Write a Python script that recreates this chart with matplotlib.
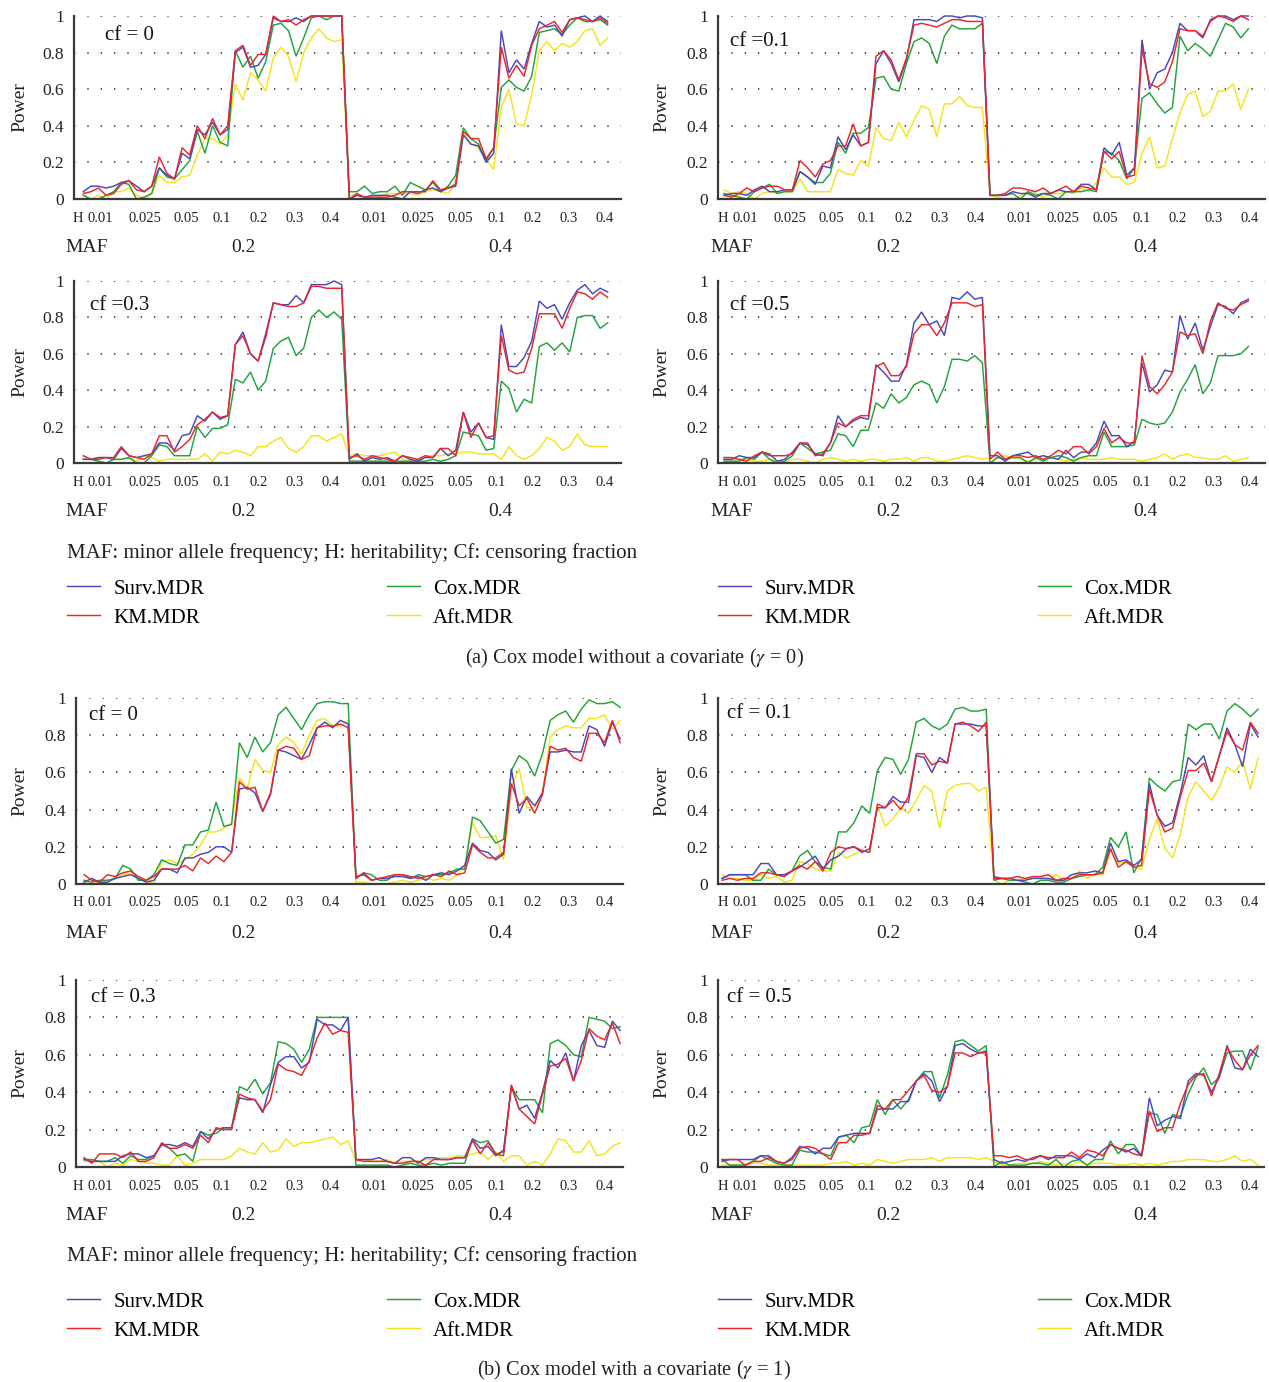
import numpy as np
import matplotlib
matplotlib.use('Agg')
import matplotlib.pyplot as plt

plt.rcParams['font.family'] = ['Liberation Serif', 'DejaVu Serif']
plt.rcParams['mathtext.fontset'] = 'stix'

# ---------------- categories / labels ----------------
h_levels = ['0.01', '0.025', '0.05', '0.1', '0.2', '0.3', '0.4']
maf_levels = ['0.2', '0.4']
methods = ['Surv.MDR', 'KM.MDR', 'Cox.MDR', 'Aft.MDR']
cf_labels_a = ['cf = 0', 'cf =0.1', 'cf =0.3', 'cf =0.5']
cf_labels_b = ['cf = 0', 'cf = 0.1', 'cf = 0.3', 'cf = 0.5']
y_ticks = [0, 0.2, 0.4, 0.6, 0.8, 1.0]
y_ticklabels = ['0', '0.2', '0.4', '0.6', '0.8', '1']

# ---------------- (a) without covariate ----------------
a_cf0_surv = [0.04,0.07,0.07,0.06,0.07, 0.09,0.10,0.07,0.04,0.07, 0.17,0.13,0.11,0.25,0.22, 0.38,0.35,0.42,0.35,0.38, 0.80,0.83,0.72,0.73,0.79, 0.99,0.97,0.97,0.99,0.97, 1.0,1.0,1.0,1.0,1.0,
              0.0,0.02,0.01,0.02,0.02, 0.02,0.01,0.0,0.04,0.03, 0.05,0.06,0.04,0.06,0.07, 0.35,0.30,0.29,0.20,0.25, 0.92,0.69,0.76,0.71,0.85, 0.97,0.94,0.95,0.89,0.98, 0.99,1.0,0.97,1.0,0.97]
a_cf0_km = [0.03,0.04,0.06,0.02,0.03, 0.08,0.10,0.05,0.04,0.07, 0.23,0.14,0.11,0.28,0.24, 0.40,0.33,0.44,0.35,0.40, 0.81,0.84,0.73,0.79,0.79, 1.0,0.97,0.98,0.95,0.98, 1.0,1.0,1.0,1.0,1.0,
            0.0,0.03,0.01,0.01,0.01, 0.01,0.02,0.04,0.04,0.04, 0.04,0.10,0.05,0.06,0.08, 0.37,0.33,0.33,0.22,0.28, 0.83,0.66,0.73,0.67,0.84, 0.93,0.95,0.97,0.91,0.98, 0.99,0.98,0.97,0.99,0.96]
a_cf0_cox = [0.02,0.0,0.0,0.02,0.04, 0.09,0.08,0.0,0.01,0.03, 0.17,0.12,0.11,0.16,0.21, 0.37,0.25,0.40,0.31,0.29, 0.81,0.72,0.78,0.66,0.75, 0.95,0.96,0.92,0.78,0.88, 0.99,1.0,0.98,1.0,1.0,
             0.04,0.04,0.07,0.03,0.04, 0.04,0.07,0.02,0.09,0.07, 0.05,0.09,0.04,0.07,0.13, 0.39,0.33,0.30,0.21,0.28, 0.61,0.65,0.61,0.59,0.67, 0.91,0.92,0.93,0.90,0.95, 0.99,0.97,0.97,0.98,0.95]
a_cf0_aft = [0.02,0.0,0.02,0.0,0.04, 0.04,0.06,0.02,0.0,0.03, 0.13,0.09,0.09,0.12,0.13, 0.24,0.33,0.33,0.30,0.35, 0.63,0.54,0.69,0.65,0.59, 0.77,0.83,0.78,0.64,0.80, 0.88,0.93,0.88,0.86,0.87,
             0.02,0.02,0.0,0.0,0.01, 0.03,0.03,0.03,0.03,0.02, 0.04,0.05,0.04,0.03,0.10, 0.36,0.30,0.28,0.22,0.16, 0.50,0.60,0.41,0.40,0.57, 0.81,0.86,0.81,0.85,0.83, 0.86,0.92,0.93,0.84,0.88]

a_cf1_surv = [0.02,0.03,0.03,0.02,0.05, 0.07,0.04,0.04,0.05,0.05, 0.15,0.12,0.08,0.18,0.17, 0.34,0.27,0.35,0.29,0.31, 0.74,0.81,0.74,0.64,0.76, 0.98,0.98,0.98,0.97,1.0, 1.0,0.99,1.0,1.0,0.99,
              0.02,0.02,0.02,0.04,0.03, 0.03,0.01,0.03,0.03,0.05, 0.04,0.04,0.08,0.08,0.05, 0.28,0.24,0.31,0.13,0.17, 0.87,0.60,0.69,0.71,0.80, 0.96,0.92,0.92,0.88,0.98, 1.0,1.0,0.98,1.0,1.0]
a_cf1_km = [0.02,0.01,0.03,0.06,0.04, 0.06,0.07,0.07,0.05,0.05, 0.21,0.17,0.12,0.19,0.21, 0.29,0.29,0.41,0.29,0.31, 0.78,0.81,0.76,0.65,0.77, 0.95,0.96,0.95,0.94,0.96, 0.98,0.98,0.97,0.97,0.97,
            0.02,0.02,0.03,0.06,0.06, 0.05,0.04,0.06,0.03,0.05, 0.07,0.04,0.07,0.06,0.05, 0.26,0.22,0.26,0.12,0.13, 0.82,0.63,0.61,0.64,0.75, 0.93,0.92,0.92,0.89,0.97, 1.0,0.99,0.97,1.0,0.98]
a_cf1_cox = [0.03,0.02,0.01,0.0,0.04, 0.06,0.08,0.03,0.04,0.04, 0.15,0.12,0.09,0.09,0.14, 0.31,0.25,0.36,0.36,0.39, 0.66,0.67,0.60,0.59,0.74, 0.86,0.88,0.85,0.74,0.89, 0.95,0.93,0.93,0.93,0.96,
             0.02,0.02,0.02,0.03,0.0, 0.04,0.02,0.03,0.02,0.0, 0.04,0.04,0.04,0.05,0.04, 0.26,0.25,0.21,0.11,0.17, 0.55,0.58,0.52,0.47,0.50, 0.89,0.81,0.85,0.82,0.78, 0.87,0.96,0.94,0.88,0.93]
a_cf1_aft = [0.05,0.03,0.04,0.03,0.0, 0.03,0.04,0.03,0.04,0.04, 0.11,0.04,0.04,0.04,0.04, 0.16,0.14,0.13,0.21,0.18, 0.39,0.33,0.32,0.42,0.34, 0.43,0.51,0.49,0.34,0.52, 0.52,0.56,0.51,0.50,0.50,
             0.02,0.01,0.0,0.0,0.02, 0.04,0.03,0.01,0.03,0.03, 0.04,0.03,0.06,0.04,0.09, 0.17,0.12,0.12,0.08,0.09, 0.25,0.34,0.17,0.18,0.33, 0.47,0.57,0.59,0.45,0.48, 0.59,0.59,0.63,0.49,0.60]

a_cf3_surv = [0.02,0.02,0.03,0.03,0.02, 0.08,0.04,0.03,0.04,0.05, 0.11,0.11,0.07,0.15,0.16, 0.26,0.23,0.28,0.24,0.26, 0.65,0.72,0.60,0.56,0.71, 0.88,0.87,0.87,0.92,0.88, 0.98,0.98,0.98,1.0,0.98,
              0.02,0.05,0.01,0.03,0.02, 0.03,0.01,0.04,0.02,0.01, 0.03,0.03,0.08,0.04,0.07, 0.28,0.17,0.22,0.14,0.13, 0.76,0.53,0.53,0.58,0.67, 0.89,0.85,0.87,0.79,0.88, 0.95,0.98,0.93,0.96,0.94]
a_cf3_km = [0.04,0.02,0.02,0.03,0.03, 0.09,0.04,0.03,0.02,0.05, 0.15,0.15,0.06,0.09,0.13, 0.21,0.24,0.28,0.25,0.26, 0.65,0.70,0.60,0.56,0.69, 0.88,0.87,0.86,0.86,0.88, 0.97,0.97,0.96,0.96,0.96,
            0.03,0.04,0.02,0.04,0.03, 0.02,0.01,0.04,0.03,0.02, 0.04,0.03,0.08,0.08,0.04, 0.28,0.14,0.22,0.14,0.15, 0.70,0.51,0.49,0.50,0.63, 0.82,0.82,0.82,0.74,0.85, 0.94,0.93,0.90,0.94,0.91]
a_cf3_cox = [0.02,0.02,0.01,0.0,0.02, 0.02,0.03,0.0,0.0,0.04, 0.10,0.09,0.04,0.04,0.04, 0.20,0.14,0.19,0.19,0.21, 0.46,0.44,0.50,0.40,0.45, 0.63,0.67,0.69,0.59,0.63, 0.80,0.84,0.80,0.83,0.79,
             0.01,0.01,0.01,0.01,0.01, 0.01,0.01,0.01,0.01,0.01, 0.01,0.02,0.01,0.02,0.04, 0.17,0.16,0.15,0.07,0.08, 0.45,0.41,0.28,0.35,0.33, 0.64,0.66,0.62,0.66,0.61, 0.80,0.81,0.81,0.74,0.77]
a_cf3_aft = [0.04,0.02,0.03,0.03,0.02, 0.02,0.03,0.01,0.04,0.03, 0.01,0.02,0.02,0.02,0.02, 0.02,0.05,0.01,0.06,0.05, 0.07,0.06,0.04,0.09,0.09, 0.12,0.14,0.08,0.06,0.09, 0.15,0.15,0.12,0.14,0.16,
             0.04,0.05,0.04,0.04,0.04, 0.05,0.06,0.02,0.01,0.02, 0.04,0.04,0.04,0.05,0.05, 0.06,0.06,0.05,0.05,0.05, 0.02,0.09,0.04,0.02,0.04, 0.08,0.14,0.12,0.07,0.09, 0.16,0.10,0.09,0.09,0.09]

a_cf5_surv = [0.02,0.02,0.04,0.03,0.03, 0.06,0.05,0.01,0.02,0.06, 0.11,0.10,0.05,0.04,0.11, 0.26,0.20,0.23,0.25,0.24, 0.54,0.50,0.45,0.45,0.54, 0.77,0.83,0.76,0.78,0.70, 0.91,0.90,0.94,0.90,0.91,
              0.04,0.04,0.01,0.04,0.05, 0.06,0.03,0.04,0.03,0.02, 0.07,0.03,0.06,0.06,0.11, 0.23,0.15,0.15,0.09,0.12, 0.55,0.39,0.43,0.51,0.50, 0.81,0.68,0.77,0.62,0.75, 0.87,0.86,0.82,0.88,0.90]
a_cf5_km = [0.03,0.03,0.02,0.01,0.04, 0.06,0.04,0.04,0.04,0.05, 0.11,0.11,0.04,0.05,0.11, 0.22,0.20,0.24,0.26,0.26, 0.53,0.55,0.48,0.48,0.53, 0.71,0.76,0.76,0.70,0.77, 0.88,0.88,0.88,0.86,0.87,
            0.02,0.06,0.02,0.04,0.04, 0.03,0.04,0.02,0.04,0.07, 0.05,0.09,0.09,0.05,0.09, 0.19,0.11,0.14,0.11,0.11, 0.59,0.42,0.38,0.43,0.50, 0.72,0.70,0.71,0.60,0.78, 0.88,0.85,0.84,0.87,0.89]
a_cf5_cox = [0.01,0.01,0.01,0.03,0.02, 0.06,0.02,0.0,0.01,0.04, 0.11,0.08,0.05,0.06,0.07, 0.16,0.15,0.09,0.18,0.18, 0.33,0.30,0.38,0.33,0.36, 0.43,0.45,0.43,0.33,0.42, 0.57,0.57,0.56,0.59,0.55,
             0.0,0.03,0.02,0.03,0.03, 0.0,0.03,0.01,0.03,0.04, 0.03,0.01,0.03,0.04,0.04, 0.17,0.09,0.09,0.09,0.10, 0.24,0.22,0.21,0.22,0.28, 0.39,0.46,0.54,0.38,0.44, 0.59,0.59,0.59,0.60,0.64]
a_cf5_aft = [0.02,0.02,0.02,0.02,0.01, 0.01,0.02,0.01,0.0,0.02, 0.02,0.01,0.0,0.02,0.03, 0.02,0.01,0.02,0.01,0.02, 0.02,0.01,0.02,0.02,0.03, 0.01,0.03,0.03,0.01,0.01, 0.02,0.03,0.04,0.03,0.02,
             0.03,0.03,0.04,0.03,0.02, 0.01,0.02,0.02,0.03,0.02, 0.01,0.02,0.03,0.02,0.02, 0.02,0.03,0.02,0.02,0.02, 0.01,0.02,0.03,0.05,0.02, 0.04,0.05,0.03,0.03,0.02, 0.02,0.04,0.01,0.02,0.03]

# ---------------- (b) with covariate ----------------
b_cf0_surv = [0.01,0.03,0.01,0.01,0.03, 0.04,0.05,0.03,0.01,0.02, 0.08,0.08,0.06,0.14,0.14, 0.16,0.17,0.20,0.20,0.17, 0.51,0.52,0.49,0.39,0.48, 0.72,0.71,0.69,0.67,0.75, 0.84,0.87,0.84,0.88,0.86,
              0.04,0.05,0.02,0.03,0.03, 0.04,0.04,0.03,0.04,0.02, 0.05,0.06,0.05,0.07,0.10, 0.22,0.18,0.17,0.13,0.16, 0.62,0.38,0.47,0.42,0.49, 0.71,0.71,0.72,0.71,0.71, 0.85,0.83,0.74,0.87,0.78]
b_cf0_km = [0.05,0.02,0.01,0.05,0.04, 0.06,0.07,0.04,0.02,0.04, 0.08,0.08,0.08,0.10,0.07, 0.14,0.11,0.15,0.12,0.17, 0.55,0.51,0.52,0.39,0.49, 0.72,0.74,0.73,0.67,0.69, 0.84,0.85,0.85,0.86,0.84,
            0.03,0.06,0.02,0.03,0.04, 0.05,0.05,0.04,0.03,0.04, 0.05,0.04,0.07,0.05,0.06, 0.21,0.17,0.14,0.14,0.17, 0.54,0.42,0.46,0.38,0.48, 0.74,0.72,0.73,0.68,0.66, 0.81,0.81,0.76,0.88,0.76]
b_cf0_cox = [0.02,0.01,0.02,0.02,0.03, 0.10,0.08,0.02,0.02,0.05, 0.13,0.11,0.10,0.21,0.21, 0.28,0.29,0.44,0.31,0.32, 0.76,0.68,0.79,0.71,0.76, 0.91,0.95,0.89,0.83,0.91, 0.97,0.98,0.98,0.97,0.97,
             0.03,0.06,0.05,0.02,0.02, 0.05,0.05,0.03,0.05,0.04, 0.05,0.05,0.06,0.08,0.08, 0.36,0.34,0.28,0.22,0.24, 0.61,0.69,0.66,0.58,0.70, 0.88,0.91,0.93,0.87,0.94, 0.99,0.97,0.97,0.98,0.95]
b_cf0_aft = [0.01,0.0,0.01,0.01,0.03, 0.05,0.06,0.04,0.02,0.0, 0.12,0.13,0.11,0.13,0.16, 0.21,0.28,0.28,0.30,0.33, 0.57,0.51,0.67,0.61,0.60, 0.75,0.79,0.76,0.70,0.80, 0.88,0.89,0.85,0.85,0.88,
             0.01,0.01,0.0,0.0,0.0, 0.01,0.02,0.01,0.02,0.03, 0.02,0.03,0.02,0.05,0.09, 0.33,0.25,0.25,0.26,0.13, 0.52,0.62,0.41,0.41,0.49, 0.79,0.83,0.85,0.84,0.84, 0.89,0.89,0.91,0.83,0.88]

b_cf1_surv = [0.03,0.05,0.05,0.05,0.05, 0.11,0.11,0.05,0.05,0.07, 0.09,0.12,0.15,0.08,0.13, 0.15,0.19,0.20,0.17,0.19, 0.41,0.41,0.47,0.44,0.44, 0.69,0.68,0.60,0.68,0.65, 0.86,0.86,0.86,0.85,0.85,
              0.04,0.03,0.03,0.02,0.02, 0.03,0.03,0.03,0.02,0.02, 0.05,0.06,0.06,0.07,0.06, 0.22,0.12,0.13,0.10,0.13, 0.54,0.37,0.31,0.33,0.49, 0.68,0.64,0.69,0.55,0.69, 0.84,0.75,0.63,0.86,0.79]
b_cf1_km = [0.02,0.03,0.02,0.03,0.03, 0.06,0.06,0.05,0.04,0.07, 0.10,0.08,0.12,0.07,0.17, 0.20,0.19,0.20,0.18,0.17, 0.43,0.41,0.45,0.40,0.47, 0.70,0.70,0.64,0.66,0.65, 0.86,0.87,0.85,0.82,0.87,
            0.03,0.03,0.03,0.04,0.03, 0.04,0.04,0.05,0.02,0.03, 0.03,0.05,0.05,0.05,0.06, 0.19,0.09,0.12,0.09,0.10, 0.51,0.37,0.28,0.30,0.47, 0.61,0.61,0.65,0.55,0.69, 0.82,0.75,0.72,0.87,0.81]
b_cf1_cox = [0.03,0.05,0.05,0.05,0.02, 0.02,0.08,0.05,0.04,0.07, 0.15,0.18,0.12,0.09,0.08, 0.28,0.28,0.33,0.42,0.38, 0.61,0.68,0.67,0.59,0.67, 0.87,0.89,0.85,0.83,0.86, 0.94,0.95,0.93,0.93,0.94,
             0.02,0.03,0.02,0.02,0.01, 0.0,0.02,0.02,0.01,0.01, 0.03,0.04,0.05,0.05,0.09, 0.25,0.20,0.28,0.06,0.14, 0.57,0.53,0.50,0.55,0.56, 0.86,0.83,0.86,0.86,0.78, 0.93,0.97,0.94,0.90,0.94]
b_cf1_aft = [0.05,0.03,0.03,0.02,0.02, 0.05,0.03,0.04,0.01,0.02, 0.12,0.11,0.08,0.07,0.07, 0.17,0.14,0.16,0.18,0.17, 0.42,0.31,0.35,0.41,0.38, 0.45,0.53,0.50,0.30,0.50, 0.53,0.54,0.54,0.50,0.52,
             0.02,0.0,0.02,0.02,0.03, 0.03,0.04,0.02,0.05,0.02, 0.03,0.07,0.03,0.06,0.05, 0.18,0.11,0.12,0.09,0.08, 0.24,0.35,0.19,0.14,0.27, 0.47,0.55,0.50,0.45,0.52, 0.63,0.60,0.66,0.51,0.68]

b_cf3_surv = [0.04,0.03,0.03,0.03,0.03, 0.06,0.07,0.07,0.05,0.06, 0.12,0.12,0.11,0.13,0.11, 0.19,0.15,0.20,0.21,0.21, 0.37,0.36,0.36,0.29,0.44, 0.56,0.59,0.59,0.53,0.56, 0.79,0.76,0.76,0.73,0.80,
              0.04,0.04,0.04,0.05,0.03, 0.02,0.05,0.05,0.02,0.05, 0.05,0.04,0.04,0.05,0.05, 0.15,0.10,0.11,0.06,0.09, 0.43,0.31,0.33,0.26,0.40, 0.57,0.53,0.61,0.46,0.65, 0.73,0.65,0.64,0.78,0.73]
b_cf3_km = [0.05,0.02,0.07,0.07,0.07, 0.05,0.08,0.03,0.03,0.05, 0.13,0.10,0.10,0.12,0.10, 0.17,0.13,0.21,0.20,0.20, 0.39,0.37,0.36,0.30,0.36, 0.55,0.52,0.51,0.49,0.57, 0.69,0.77,0.71,0.73,0.72,
            0.04,0.03,0.03,0.03,0.03, 0.02,0.02,0.03,0.03,0.01, 0.04,0.04,0.04,0.05,0.05, 0.14,0.07,0.13,0.07,0.06, 0.44,0.31,0.27,0.23,0.39, 0.54,0.55,0.58,0.46,0.57, 0.74,0.70,0.68,0.77,0.66]
b_cf3_cox = [0.04,0.04,0.03,0.03,0.05, 0.02,0.06,0.04,0.04,0.06, 0.12,0.10,0.06,0.07,0.03, 0.19,0.17,0.18,0.21,0.21, 0.43,0.41,0.47,0.39,0.45, 0.67,0.66,0.63,0.56,0.63, 0.80,0.80,0.80,0.80,0.80,
             0.01,0.01,0.01,0.01,0.01, 0.0,0.01,0.02,0.01,0.01, 0.02,0.01,0.02,0.02,0.02, 0.15,0.13,0.14,0.07,0.08, 0.43,0.36,0.36,0.36,0.29, 0.66,0.68,0.65,0.60,0.59, 0.80,0.79,0.78,0.74,0.75]
b_cf3_aft = [0.03,0.03,0.03,0.0,0.02, 0.01,0.04,0.03,0.02,0.02, 0.01,0.01,0.06,0.01,0.02, 0.04,0.04,0.04,0.04,0.06, 0.10,0.08,0.07,0.13,0.08, 0.09,0.15,0.11,0.13,0.13, 0.14,0.15,0.16,0.12,0.14,
             0.03,0.04,0.03,0.03,0.04, 0.02,0.03,0.03,0.03,0.04, 0.04,0.05,0.05,0.06,0.06, 0.07,0.08,0.04,0.08,0.03, 0.06,0.06,0.01,0.03,0.01, 0.07,0.15,0.14,0.08,0.08, 0.14,0.06,0.07,0.11,0.13]

b_cf5_surv = [0.03,0.04,0.04,0.04,0.04, 0.06,0.06,0.03,0.02,0.05, 0.11,0.10,0.07,0.10,0.10, 0.16,0.17,0.18,0.18,0.18, 0.31,0.31,0.31,0.35,0.35, 0.46,0.50,0.46,0.35,0.43, 0.65,0.66,0.63,0.61,0.62,
              0.04,0.02,0.03,0.04,0.03, 0.05,0.06,0.04,0.06,0.06, 0.06,0.04,0.07,0.05,0.09, 0.12,0.10,0.08,0.10,0.06, 0.37,0.22,0.25,0.27,0.26, 0.46,0.50,0.49,0.40,0.48, 0.65,0.53,0.52,0.63,0.59]
b_cf5_km = [0.04,0.04,0.04,0.01,0.03, 0.03,0.05,0.03,0.02,0.04, 0.10,0.11,0.10,0.07,0.04, 0.13,0.13,0.17,0.17,0.18, 0.33,0.31,0.36,0.36,0.41, 0.46,0.49,0.41,0.40,0.43, 0.61,0.61,0.59,0.61,0.61,
            0.06,0.06,0.05,0.06,0.04, 0.04,0.06,0.05,0.05,0.05, 0.08,0.05,0.09,0.08,0.06, 0.12,0.10,0.09,0.07,0.06, 0.30,0.19,0.21,0.21,0.34, 0.44,0.49,0.50,0.38,0.50, 0.64,0.57,0.52,0.60,0.65]
b_cf5_cox = [0.04,0.01,0.01,0.01,0.03, 0.06,0.04,0.02,0.01,0.01, 0.09,0.08,0.08,0.07,0.06, 0.16,0.17,0.13,0.21,0.22, 0.36,0.28,0.36,0.31,0.36, 0.46,0.51,0.51,0.37,0.49, 0.67,0.68,0.65,0.62,0.65,
             0.0,0.03,0.01,0.01,0.01, 0.02,0.02,0.01,0.04,0.0, 0.03,0.04,0.01,0.04,0.04, 0.14,0.07,0.12,0.12,0.06, 0.29,0.28,0.18,0.28,0.27, 0.39,0.48,0.53,0.44,0.48, 0.61,0.62,0.62,0.52,0.64]
b_cf5_aft = [0.01,0.01,0.01,0.01,0.02, 0.02,0.01,0.01,0.01,0.01, 0.01,0.01,0.01,0.01,0.02, 0.02,0.03,0.01,0.02,0.01, 0.04,0.03,0.02,0.03,0.04, 0.04,0.04,0.05,0.03,0.05, 0.05,0.05,0.05,0.04,0.05,
             0.03,0.01,0.01,0.02,0.02, 0.02,0.03,0.02,0.01,0.02, 0.01,0.03,0.01,0.02,0.02, 0.02,0.01,0.01,0.02,0.01, 0.02,0.01,0.02,0.03,0.03, 0.04,0.04,0.04,0.03,0.03, 0.04,0.06,0.03,0.04,0.01]

# ---------------- styles ----------------
colors = {'Surv.MDR': '#4848bb', 'KM.MDR': '#e8262b', 'Cox.MDR': '#22a33b', 'Aft.MDR': '#f4e31c'}
zorders = {'Aft.MDR': 2, 'Cox.MDR': 3, 'Surv.MDR': 4, 'KM.MDR': 5}
AXC = '#3a3a3a'
TXT = '#222222'

W, H = 1269, 1382
fig = plt.figure(figsize=(W / 100, H / 100), dpi=100)
fig.patch.set_facecolor('white')


def fx(px):
    return px / W


def fy(py):
    return 1 - py / H


panels = [
    # series, cf text, (top, bottom px), x0 px, spacing, spine, right, label offset, cf text pos
    ([a_cf0_surv, a_cf0_km, a_cf0_cox, a_cf0_aft], cf_labels_a[0], (16, 199), 83.3, 7.6, 74, 621, 0, (105, 35)),
    ([a_cf1_surv, a_cf1_km, a_cf1_cox, a_cf1_aft], cf_labels_a[1], (16, 199), 724, 7.6, 718, 1265, 645, (730, 42)),
    ([a_cf3_surv, a_cf3_km, a_cf3_cox, a_cf3_aft], cf_labels_a[2], (281, 463), 83.3, 7.6, 74, 621, 0, (90, 306)),
    ([a_cf5_surv, a_cf5_km, a_cf5_cox, a_cf5_aft], cf_labels_a[3], (281, 463), 724, 7.6, 718, 1265, 645, (730, 306)),
    ([b_cf0_surv, b_cf0_km, b_cf0_cox, b_cf0_aft], cf_labels_b[0], (698, 884), 84, 7.77, 76, 623, 0, (89, 715)),
    ([b_cf1_surv, b_cf1_km, b_cf1_cox, b_cf1_aft], cf_labels_b[1], (698, 884), 722, 7.77, 718, 1264, 645, (727, 713)),
    ([b_cf3_surv, b_cf3_km, b_cf3_cox, b_cf3_aft], cf_labels_b[2], (980, 1167), 84, 7.77, 76, 623, 0, (91, 998)),
    ([b_cf5_surv, b_cf5_km, b_cf5_cox, b_cf5_aft], cf_labels_b[3], (980, 1167), 722, 7.77, 718, 1264, 645, (727, 998)),
]

# pixel centres of the heritability labels in a left-hand panel
label_px = [100, 145, 186, 222, 259, 295, 331, 374, 418, 460, 497, 533, 569, 605]

for k in range(len(panels)):
    for s in panels[k][0]:
        if len(s) != 70:
            raise ValueError('panel %d series length %d' % (k, len(s)))

handles = {}
for series, cftxt, (top, bot), x0, sp, spine, right, loff, cfpos in panels:
    ax = fig.add_axes([fx(spine), fy(bot), (right - spine) / W, (bot - top) / H])
    xl = (spine - x0) / sp
    xr = (right - x0) / sp
    for name, vals in zip(methods, series):
        x = np.arange(len(vals))
        ln, = ax.plot(x, vals, color=colors[name], lw=1.05, zorder=zorders[name],
                      clip_on=False, solid_joinstyle='miter', label=name)
        handles[name] = ln
    ax.set_xlim(xl, xr)
    ax.set_ylim(0, 1)
    for sname in ['top', 'right']:
        ax.spines[sname].set_visible(False)
    for sname in ['left', 'bottom']:
        ax.spines[sname].set_color(AXC)
        ax.spines[sname].set_linewidth(1.6)
        ax.spines[sname].set_zorder(6)
    ax.set_yticks(y_ticks)
    ax.set_yticklabels(y_ticklabels)
    ax.tick_params(axis='y', length=0, pad=7, labelsize=12.5, colors=TXT)
    for yv in y_ticks[1:]:
        ax.axhline(yv, color='#333333', lw=1.2, linestyle=(0, (0.8, 7.2)), zorder=1)
    ticks = [(p + loff - x0) / sp for p in label_px]
    ax.set_xticks(ticks)
    ax.set_xticklabels(h_levels + h_levels)
    ax.tick_params(axis='x', length=0, pad=9, labelsize=10.5, colors=TXT)
    # "H" label before the heritability ticks
    fig.text(fx(78 + loff), fy(bot + 19), 'H', fontsize=10.5, ha='center', va='center', color=TXT)
    # MAF row
    fig.text(fx(65 + loff), fy(bot + 49), 'MAF', fontsize=14, ha='left', va='center', color=TXT)
    fig.text(fx(243 + loff), fy(bot + 49), maf_levels[0], fontsize=14, ha='center', va='center', color=TXT)
    fig.text(fx(500 + loff), fy(bot + 49), maf_levels[1], fontsize=14, ha='center', va='center', color=TXT)
    # y label
    fig.text(fx((20 if loff == 0 else 17) + loff), fy((top + bot) / 2), 'Power', rotation=90,
             fontsize=14, ha='center', va='center', color=TXT)
    # cf annotation
    fig.text(fx(cfpos[0]), fy(cfpos[1]), cftxt, fontsize=15, ha='left', va='center', color='#111111')

# footnotes, legends and captions
note = 'MAF: minor allele frequency; H: heritability; Cf: censoring fraction'
captions = ['(a) Cox model without a covariate ($\\gamma$ = 0)', '(b) Cox model with a covariate ($\\gamma$ = 1)']
for note_y, leg_y, cap_y, cap in [(553, 587, 658, captions[0]), (1256, 1300, 1370, captions[1])]:
    fig.text(fx(67), fy(note_y), note, fontsize=15, ha='left', va='center', color=TXT)
    for col_x, pair in [(67, ['Surv.MDR', 'KM.MDR']), (387, ['Cox.MDR', 'Aft.MDR']),
                        (718, ['Surv.MDR', 'KM.MDR']), (1038, ['Cox.MDR', 'Aft.MDR'])]:
        fig.legend([handles[n] for n in pair], pair, loc='upper left',
                   bbox_to_anchor=(fx(col_x), fy(leg_y - 8)), frameon=False,
                   borderpad=0, borderaxespad=0, handlelength=1.6, handletextpad=0.62,
                   labelspacing=0.45, fontsize=15)
    fig.text(fx(634), fy(cap_y), cap, fontsize=14.7, ha='center', va='center', color=TXT)

fig.savefig('out.png', dpi=100, facecolor='white')
